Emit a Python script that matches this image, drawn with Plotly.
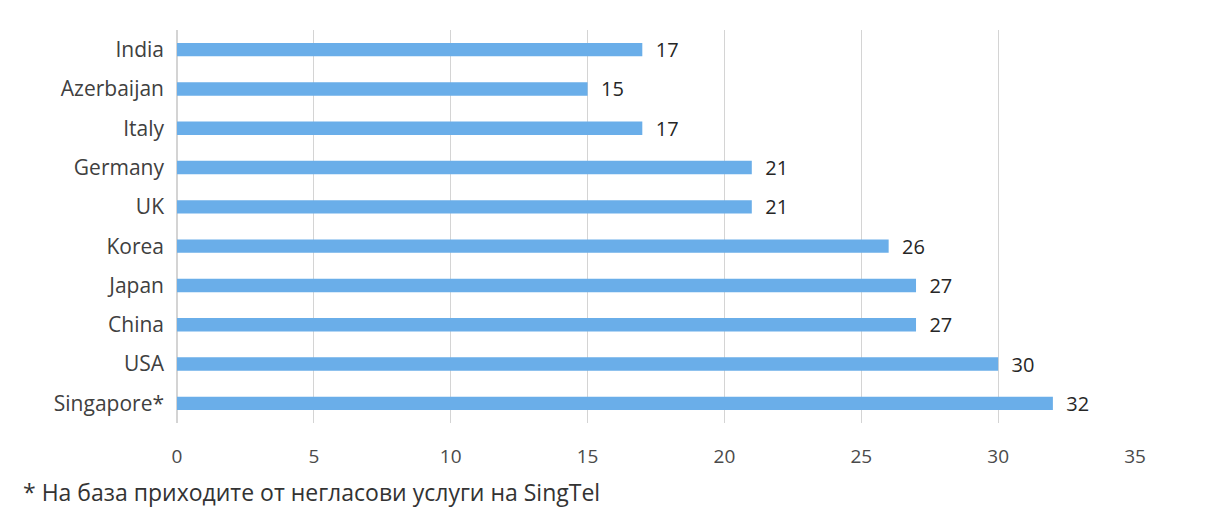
import plotly.graph_objects as go

countries = ["India", "Azerbaijan", "Italy", "Germany", "UK", "Korea", "Japan", "China", "USA", "Singapore*"]
values = [17, 15, 17, 21, 21, 26, 27, 27, 30, 32]
x_ticks = [0, 5, 10, 15, 20, 25, 30, 35]
footnote = "* На база приходите от негласови услуги на SingTel"

FONT = "'Open Sans', Lato, sans-serif"

fig = go.Figure(
    go.Bar(
        y=countries,
        x=values,
        orientation="h",
        width=0.34,
        marker=dict(color="#6aaee9", line=dict(width=0)),
        texttemplate="\u00a0\u00a0%{x}",
        textposition="outside",
        constraintext="none",
        textfont=dict(family=FONT, size=20, color="#262626"),
        cliponaxis=False,
    )
)

fig.update_layout(
    width=1219,
    height=511,
    margin=dict(l=177, r=84, t=30, b=88),
    paper_bgcolor="white",
    plot_bgcolor="white",
    showlegend=False,
    uniformtext=dict(minsize=20, mode="show"),
    font=dict(family=FONT, size=18, color="#404040"),
    xaxis=dict(
        range=[0, 35],
        tickvals=x_ticks,
        ticktext=[str(t) for t in x_ticks],
        showgrid=True,
        gridcolor="#d4d4d4",
        gridwidth=1,
        zeroline=True,
        zerolinecolor="#d4d4d4",
        showline=False,
        ticks="",
        ticklabelstandoff=20,
        tickfont=dict(size=19, color="#4a4a4a"),
    ),
    yaxis=dict(
        categoryorder="array",
        categoryarray=countries[::-1],
        showgrid=False,
        showline=False,
        ticks="",
        ticklabelstandoff=12,
        tickfont=dict(size=21, color="#404040"),
    ),
    annotations=[
        dict(
            text=footnote,
            xref="paper", yref="paper",
            x=-0.163, y=-0.13,
            xanchor="left", yanchor="top",
            showarrow=False,
            font=dict(family=FONT, size=23, color="#333333"),
        )
    ],
)

fig.write_html("out.html")
